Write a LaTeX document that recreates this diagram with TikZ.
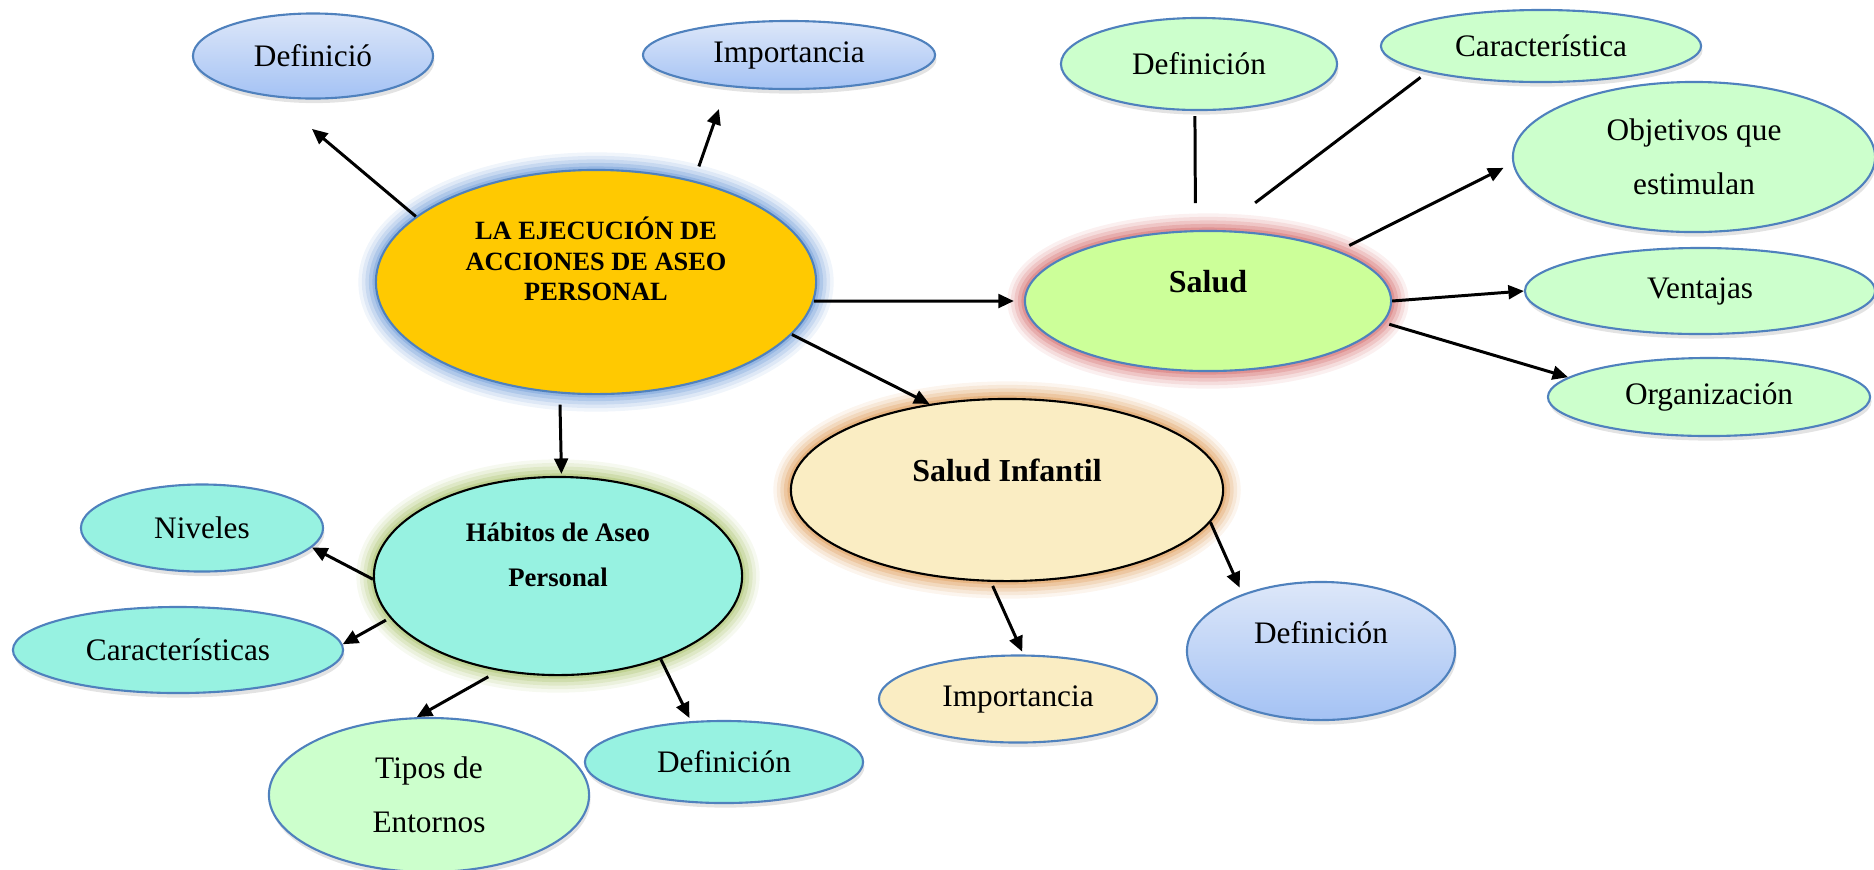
\documentclass[tikz,border=0pt]{standalone}
\usepackage{fontspec}
\setmainfont{Liberation Serif}
\usetikzlibrary{shapes.geometric,arrows.meta,shadows}

\definecolor{oro}{HTML}{FFC901}
\definecolor{verdeS}{HTML}{CCFF99}
\definecolor{crema}{HTML}{FAEDC3}
\definecolor{aqua}{HTML}{97F2E1}
\definecolor{verdeC}{HTML}{CCFFCC}
\definecolor{azul}{HTML}{4F81BD}
\definecolor{azulA}{HTML}{DDE7F9}
\definecolor{azulB}{HTML}{A4C2F4}
\definecolor{brilloA}{HTML}{6F9BD8}
\definecolor{brilloS}{HTML}{D46A6A}
\definecolor{brilloI}{HTML}{DE9A55}
\definecolor{brilloH}{HTML}{A9C26A}

\tikzset{
  elip/.style={ellipse, inner sep=0pt, align=center, font=\fontsize{8.9}{15.5}\selectfont},
  tam/.style 2 args={minimum width=#1, minimum height=#2},
  hoja/.style={elip, draw=azul, line width=0.6pt, fill=#1,
    drop shadow={opacity=0.22, shadow xshift=0.4pt, shadow yshift=-1.3pt}},
  hojaazul/.style={elip, draw=azul, line width=0.6pt, top color=azulA, bottom color=azulB,
    drop shadow={opacity=0.22, shadow xshift=0.4pt, shadow yshift=-1.3pt}},
  brillo/.style={preaction={draw=#1, line width=10pt, draw opacity=0.1},
    preaction={draw=#1, line width=8pt, draw opacity=0.14},
    preaction={draw=#1, line width=6pt, draw opacity=0.2},
    preaction={draw=#1, line width=4pt, draw opacity=0.28},
    preaction={draw=#1, line width=2pt, draw opacity=0.4}},
  ttlA/.style={font=\fontsize{7.5}{8.6}\selectfont\bfseries, align=center},
  ttlB/.style={font=\fontsize{9.1}{11}\selectfont\bfseries, align=center},
  ttlC/.style={font=\fontsize{7.6}{12.9}\selectfont\bfseries, align=center},
  ttlD/.style={font=\fontsize{8.9}{10.5}\selectfont, align=center},
  flecha/.style={line width=0.85pt, -{Triangle[length=4.4pt,width=3.9pt]}},
  raya/.style={line width=0.85pt}
}

\begin{document}
\begin{tikzpicture}[x=0.01cm,y=-0.01cm]
\useasboundingbox (0,0) rectangle (1874,869);

\node[elip, tam={4.4cm}{2.24cm}, fill=oro, draw=azul, line width=0.6pt, brillo=brilloA,
  label={[ttlA,yshift=0.23cm]center:{LA EJECUCIÓN DE\\ACCIONES DE ASEO\\PERSONAL}}] (main) at (596,282) {};
\node[elip, tam={3.66cm}{1.4cm}, fill=verdeS, draw=azul, line width=0.6pt, brillo=brilloS,
  label={[ttlB,yshift=0.19cm]center:{Salud}}] (salud) at (1208,301) {};
\node[elip, tam={4.32cm}{1.82cm}, fill=crema, draw=black, line width=0.6pt, brillo=brilloI,
  label={[ttlB,yshift=0.2cm]center:{Salud Infantil}}] (salInf) at (1007,490) {};
\node[elip, tam={3.68cm}{1.98cm}, fill=aqua, draw=black, line width=0.6pt, brillo=brilloH,
  label={[ttlC,yshift=0.21cm]center:{Hábitos de Aseo\\Personal}}] (habitos) at (558,576) {};

\node[hojaazul, tam={2.4cm}{0.85cm}] (defA) at (313,56) {Definició};
\node[hojaazul, tam={2.92cm}{0.68cm}] (impA) at (789,55) {Importancia};

\node[hoja=verdeC, tam={2.76cm}{0.92cm}] (defS) at (1199,64) {Definición};
\node[hoja=verdeC, tam={3.2cm}{0.72cm}] (carS) at (1541,46) {Característica};
\node[hoja=verdeC, tam={3.62cm}{1.5cm}] (objS) at (1694,157) {Objetivos que\\estimulan};
\node[hoja=verdeC, tam={3.5cm}{0.86cm}] (venS) at (1700,291) {Ventajas};
\node[hoja=verdeC, tam={3.22cm}{0.78cm}] (orgS) at (1709,397) {Organización};

\node[hojaazul, tam={2.68cm}{1.38cm},
  label={[ttlD,yshift=0.18cm]center:{Definición}}] (defI) at (1321,651) {};
\node[hoja=crema, tam={2.78cm}{0.87cm}] (impI) at (1018,699) {Importancia};

\node[hoja=aqua, tam={2.42cm}{0.87cm}] (nivH) at (202,528) {Niveles};
\node[hoja=aqua, tam={3.3cm}{0.86cm}] (carH) at (178,650) {Características};
\node[hoja=verdeC, tam={3.2cm}{1.54cm}] (tipH) at (429,795) {Tipos de\\Entornos};
\node[hoja=aqua, tam={2.78cm}{0.82cm}] (defH) at (724,762) {Definición};

\draw[flecha, shorten >=0.49cm] (main.160) -- (defA.227);
\draw[flecha, shorten <=0.15cm, shorten >=0.235cm] (main.46) -- (impA.207);
\draw[flecha, shorten >=0.1cm] (main.355) -- (salud.180);
\draw[flecha] (main.345) -- (salInf.132);
\draw[flecha, shorten <=0.11cm, shorten >=0.02cm] (main.252) -- (habitos.88);

\draw[raya, shorten <=0.27cm, shorten >=0.05cm] (salud.100) -- (defS.265);
\draw[raya, shorten <=0.45cm, shorten >=0.085cm] (salud.81) -- (carS.193);
\draw[flecha, shorten <=0.12cm, shorten >=0.1cm] (salud.21) -- (objS.182);
\draw[flecha] (salud.0) -- (venS.180);
\draw[flecha, shorten <=0.06cm] (salud.353) -- (orgS.172);

\draw[flecha, shorten >=0.07cm] (salInf.351) -- (defI.144);
\draw[flecha, shorten <=0.045cm, shorten >=0.03cm] (salInf.260) -- (impI.83);

\draw[flecha] (habitos.181) -- (nivH.350);
\draw[flecha, shorten <=0.045cm] (habitos.194) -- (carH.2);
\draw[flecha, shorten <=0.12cm] (habitos.238) -- (tipH.99);
\draw[flecha, shorten >=0.035cm] (habitos.321) -- (defH.129);
\end{tikzpicture}
\end{document}
